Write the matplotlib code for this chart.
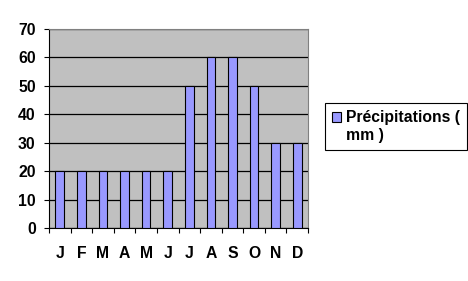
import numpy as np
import matplotlib.pyplot as plt
from matplotlib.patches import Rectangle

# Données : précipitations mensuelles (mm)
mois = ['J', 'F', 'M', 'A', 'M', 'J', 'J', 'A', 'S', 'O', 'N', 'D']
precipitations = [20, 20, 20, 20, 20, 20, 50, 60, 60, 50, 30, 30]
graduations_y = [0, 10, 20, 30, 40, 50, 60, 70]

plt.rcParams['font.family'] = ['Liberation Sans', 'DejaVu Sans']
taille = 11.3

fig = plt.figure(figsize=(4.68, 2.81), dpi=100)
ax = fig.add_axes([49 / 468, 53 / 281, 259 / 468, 199 / 281])

x = np.arange(len(mois))
barres = ax.bar(x, precipitations, width=0.4, color='#9999FF',
                edgecolor='black', linewidth=0.8, zorder=3)

ax.set_facecolor('#C0C0C0')
ax.set_xlim(-0.5, len(mois) - 0.5)
ax.set_ylim(0, 70)
ax.set_yticks(graduations_y)
ax.yaxis.grid(True, color='black', linewidth=0.9, zorder=1)
ax.set_axisbelow(True)

# graduations x : marques aux limites, étiquettes au centre
ax.set_xticks(x)
ax.set_xticklabels(mois, fontsize=taille, fontweight='bold')
ax.set_xticks(np.arange(len(mois) + 1) - 0.5, minor=True)
ax.tick_params(axis='x', which='major', length=0, pad=13)
ax.tick_params(axis='x', which='minor', length=3.6, width=0.8,
               direction='out')
ax.tick_params(axis='y', length=3.6, width=0.8, pad=6)
for lab in ax.get_yticklabels():
    lab.set_fontsize(taille)
    lab.set_fontweight('bold')

for cote in ['top', 'right']:
    ax.spines[cote].set_color('#808080')
    ax.spines[cote].set_linewidth(0.8)
for cote in ['left', 'bottom']:
    ax.spines[cote].set_color('black')
    ax.spines[cote].set_linewidth(0.8)

# légende : deuxième ligne sans symbole
vide = Rectangle((0, 0), 1, 1, visible=False)
leg = fig.legend([barres, vide], ['Précipitations (', 'mm )'],
                 loc='upper left', bbox_to_anchor=(325 / 468, 1 - 103 / 281),
                 fancybox=False, shadow=False, framealpha=1,
                 edgecolor='black', handlelength=0.6, handleheight=0.6,
                 handletextpad=0.3, labelspacing=0.2, borderpad=0.45,
                 borderaxespad=0, prop={'size': taille, 'weight': 'bold'})
leg.get_frame().set_linewidth(0.8)

fig.savefig('out.png', dpi=100)
